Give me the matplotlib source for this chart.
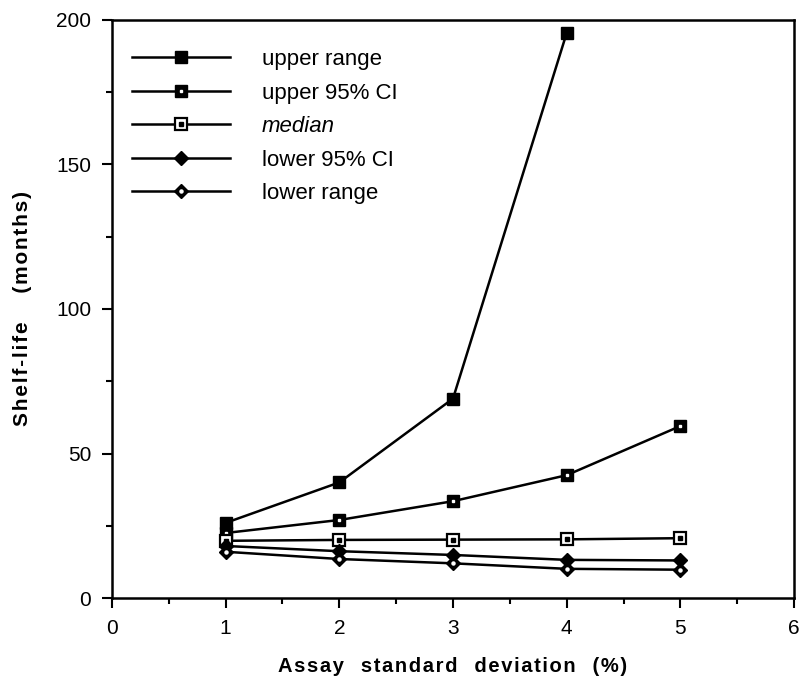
import matplotlib
matplotlib.use("Agg")
import matplotlib.pyplot as plt
from matplotlib.ticker import MultipleLocator

plt.rcParams['font.family'] = ['Liberation Sans', 'DejaVu Sans']

# values
sd = [1, 2, 3, 4, 5]
upper_range = [26, 40, 69, 195.5]   # no point at 5
upper_ci = [22.5, 27, 33.5, 42.5, 59.5]
median = [19.8, 20.1, 20.2, 20.3, 20.7]
lower_ci = [18, 16.2, 14.9, 13.2, 13]
lower_range = [16, 13.5, 12, 10.1, 9.8]
labels = ["upper range", "upper 95% CI", "median", "lower 95% CI", "lower range"]


def spaced(text, gap=3):
    # the original labels are typed with wide letter spacing
    words = text.split(" ")
    return (" " * gap).join("\u200a".join(w) for w in words)


fig = plt.figure(figsize=(8.01, 6.84), dpi=100)
ax = fig.add_axes([0.1398, 0.1257, 0.8515, 0.8451])

lw = 1.8
ms = 8
handles = []

# upper range: solid square
h1, = ax.plot(sd[:4], upper_range, color='black', lw=lw, marker='s', ms=ms)
handles.append(h1)

# upper 95% CI: solid square, tiny white dot
h2, = ax.plot(sd, upper_ci, color='black', lw=lw, marker='s', ms=ms)
d2, = ax.plot(sd, upper_ci, ls='none', marker='s', ms=1.5, color='white')
handles.append((h2, d2))

# median: open square with dot
h3, = ax.plot(sd, median, color='black', lw=lw, marker='s', ms=ms,
              markerfacecolor='white', markeredgewidth=1.6)
d3, = ax.plot(sd, median, ls='none', marker='s', ms=2.2, color='black')
handles.append((h3, d3))

# lower 95% CI: solid diamond
h4, = ax.plot(sd, lower_ci, color='black', lw=lw, marker='D', ms=7)
handles.append(h4)

# lower range: diamond with white centre
h5, = ax.plot(sd, lower_range, color='black', lw=lw, marker='D', ms=7)
d5, = ax.plot(sd, lower_range, ls='none', marker='o', ms=2.2, color='white')
handles.append((h5, d5))

leg = ax.legend(handles, labels, loc='upper left', bbox_to_anchor=(0.0, 0.984),
                frameon=False, fontsize=16, handlelength=4.4, handletextpad=1.45,
                labelspacing=0.56, borderaxespad=0.5)
leg.get_texts()[2].set_style('italic')

ax.set_xlim(0, 6)
ax.set_ylim(0, 200)
ax.xaxis.set_major_locator(MultipleLocator(1))
ax.xaxis.set_minor_locator(MultipleLocator(0.5))
ax.yaxis.set_major_locator(MultipleLocator(50))
ax.yaxis.set_minor_locator(MultipleLocator(25))
ax.tick_params(which='major', direction='out', length=7, width=1.5, labelsize=15, pad=8)
ax.tick_params(which='minor', direction='out', length=4, width=1.5)
for s in ax.spines.values():
    s.set_linewidth(1.8)

ax.set_xlabel(spaced("Assay standard deviation (%)", 3), fontsize=14.5, fontweight='bold', labelpad=14)
ax.set_ylabel(spaced("Shelf-life (months)", 5), fontsize=15, fontweight='bold', labelpad=17)

fig.savefig("out.png", dpi=100)
